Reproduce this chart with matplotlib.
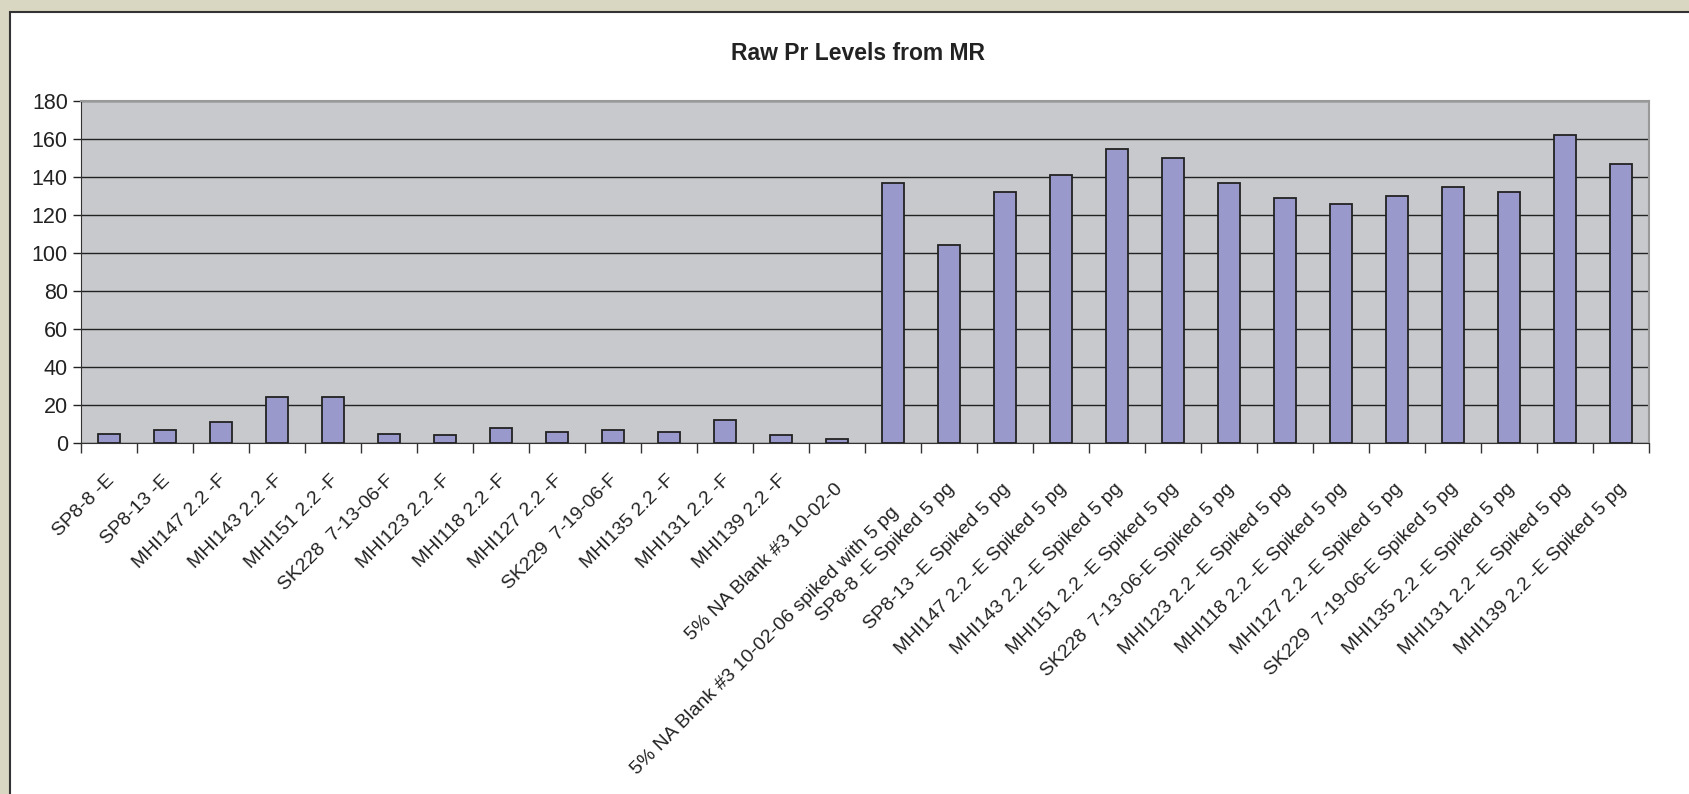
import matplotlib.pyplot as plt
from matplotlib.patches import Rectangle
import numpy as np

plt.rcParams['font.family'] = ['Liberation Sans Narrow', 'Liberation Sans', 'DejaVu Sans']

# sample names (as shown, clipped like the original)
muestras = ["SP8-8 -E", "SP8-13 -E", "MHI147 2.2 -F", "MHI143 2.2 -F", "MHI151 2.2 -F",
            "SK228  7-13-06-F", "MHI123 2.2 -F", "MHI118 2.2 -F", "MHI127 2.2 -F",
            "SK229  7-19-06-F", "MHI135 2.2 -F", "MHI131 2.2 -F", "MHI139 2.2 -F",
            "5% NA Blank #3 10-02-0",
            "5% NA Blank #3 10-02-06 spiked with 5 pg",
            "SP8-8 -E Spiked 5 pg", "SP8-13 -E Spiked 5 pg", "MHI147 2.2 -E Spiked 5 pg",
            "MHI143 2.2 -E Spiked 5 pg", "MHI151 2.2 -E Spiked 5 pg",
            "SK228  7-13-06-E Spiked 5 pg", "MHI123 2.2 -E Spiked 5 pg",
            "MHI118 2.2 -E Spiked 5 pg", "MHI127 2.2 -E Spiked 5 pg",
            "SK229  7-19-06-E Spiked 5 pg", "MHI135 2.2 -E Spiked 5 pg",
            "MHI131 2.2 -E Spiked 5 pg", "MHI139 2.2 -E Spiked 5 pg"]

# raw Pr levels
niveles = [5, 7, 11, 24, 24, 5, 4, 8, 6, 7, 6, 12, 4, 2,
           137, 104, 132, 141, 155, 150, 137, 129, 126, 130, 135, 132, 162, 147]

yticks = list(range(0, 181, 20))

fig = plt.figure(figsize=(16.9, 7.94), dpi=100)
fig.patch.set_facecolor('#d9d6c2')

# white chart frame
fig.patches.append(Rectangle((10 / 1690, -0.05), 1.1, 1 - 12 / 794 + 0.05,
                             transform=fig.transFigure, facecolor='white',
                             edgecolor='#333333', linewidth=1.5, zorder=-5))

ax = fig.add_axes([81 / 1690, 1 - 443 / 794, 1568 / 1690, 342 / 794])
ax.set_facecolor('#c8c9cc')

x = np.arange(len(niveles)) + 0.5
ax.bar(x, niveles, width=0.4, color='#9999cc', edgecolor='#222222', linewidth=1.3, zorder=3)

ax.set_xlim(0, len(niveles))
ax.set_ylim(0, 180)
ax.set_yticks(yticks)
ax.tick_params(axis='y', labelsize=15.5, direction='out', length=6, width=1, colors='#222222')
ax.yaxis.grid(True, color='#222222', linewidth=1.0, zorder=1)

# category boundary ticks, labels drawn separately
ax.set_xticks(np.arange(len(niveles) + 1))
ax.set_xticklabels([])
ax.tick_params(axis='x', direction='out', length=7, width=1, colors='#333333')

for side in ['top', 'right']:
    ax.spines[side].set_color('#999999')
    ax.spines[side].set_linewidth(1.5)
ax.spines['left'].set_color('#333333')
ax.spines['bottom'].set_color('#333333')

for i, nombre in enumerate(muestras):
    desp = -25
    if i >= 13:
        desp = -31
    if i == 14:
        desp = -48
    ax.annotate(nombre, xy=(x[i], 0), xycoords=('data', 'axes fraction'),
                xytext=(2, desp), textcoords='offset points',
                rotation=45, rotation_mode='anchor', ha='right', va='center',
                fontsize=14, color='#222222')

fig.text(858 / 1690, 1 - 54 / 794, "Raw Pr Levels from MR", ha='center', va='center',
         fontsize=16.5, fontweight='bold', color='#222222')

fig.savefig('out.png', dpi=100, facecolor=fig.get_facecolor())
